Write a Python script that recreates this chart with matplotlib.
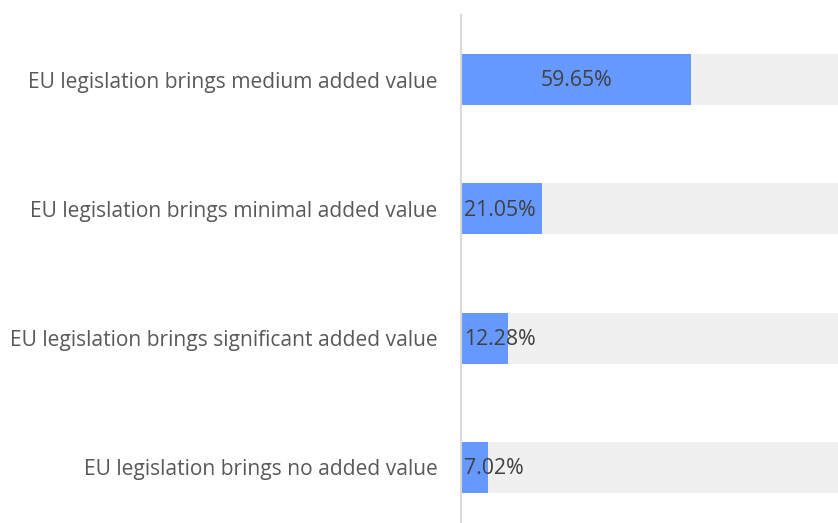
import matplotlib.pyplot as plt

# data (top to bottom)
categories = [
    "EU legislation brings medium added value",
    "EU legislation brings minimal added value",
    "EU legislation brings significant added value",
    "EU legislation brings no added value",
]
values = [59.65, 21.05, 12.28, 7.02]
value_labels = ["59.65%", "21.05%", "12.28%", "7.02%"]

plt.rcParams['font.family'] = ['Open Sans', 'DejaVu Sans']

fig = plt.figure(figsize=(8.38, 5.23), dpi=100)
ax = fig.add_axes([461 / 838, -9 / 523, 386 / 838, 517 / 523])

pos = list(range(len(categories)))
# grey track behind each bar
ax.barh(pos, [100] * len(pos), height=0.395, color='#f0f0f0', zorder=1)
ax.barh(pos, values, height=0.395, color='#6699ff', zorder=2)

for i, (v, lab) in enumerate(zip(values, value_labels)):
    if i == 0:
        ax.text(v / 2, i + 0.01, lab, ha='center', va='center', fontsize=15.3, color='#404040', zorder=3)
    else:
        ax.text(0.7, i + 0.01, lab, ha='left', va='center', fontsize=15.3, color='#404040', zorder=3)

ax.set_xlim(0, 100)
ax.set_ylim(3.5, -0.5)
ax.set_yticks(pos)
ax.set_yticklabels(categories, fontsize=15.1, color='#595959')
ax.tick_params(axis='y', length=0, pad=17)
ax.set_xticks([])
for s in ['top', 'right', 'bottom']:
    ax.spines[s].set_visible(False)
ax.spines['left'].set_color('#d9d9d9')
ax.spines['left'].set_linewidth(1.5)

plt.savefig('out.png', dpi=100)
